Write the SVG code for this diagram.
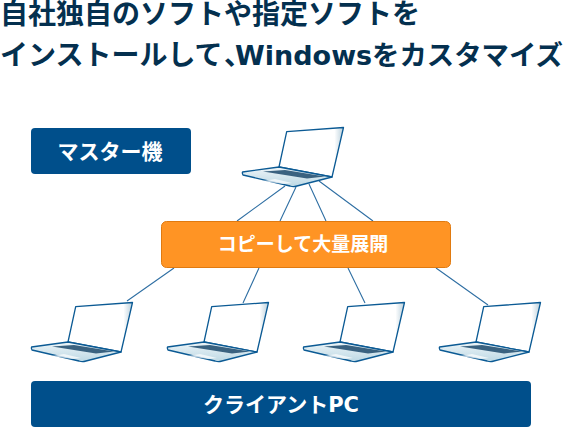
<svg xmlns="http://www.w3.org/2000/svg" width="564" height="428" viewBox="0 0 564 428">
<style>
text{font-family:"DejaVu Sans","Noto Sans CJK JP",sans-serif;font-weight:700}
.t{font-size:28px;fill:#04304f}
.l{font-size:21px;fill:#fff;text-anchor:middle}
.c{stroke:#2f6fa3;stroke-width:1.100;fill:none}
.b{fill:#004f8b}
</style>
<defs>
<linearGradient id="s" x1="0" x2="1" y1="0" y2="0"><stop offset=".86" stop-color="#fff"/><stop offset="1" stop-color="#b9cfdb"/></linearGradient>
<linearGradient id="k" x1="0" x2="0" y1="0" y2="1"><stop offset="0" stop-color="#eef5f8"/><stop offset="1" stop-color="#bcd8e4"/></linearGradient>
<g id="pc">
<path d="M286.700 131.700L343.500 127.500L332 177L279 167Z" fill="url(#s)" stroke="#0b5a94" stroke-width="1.300" stroke-linejoin="round"/>
<path d="M242.500 172L279 167L332 177L295 186.500Q293 187 290 186L243 175Q242 173 242.500 172Z" fill="url(#k)" stroke="#0b5a94" stroke-width="1.300" stroke-linejoin="round"/>
<path d="M263 171.500L285 170L325 176.500L307 178.500Z" fill="#3a6280"/>
<path d="M263 181L275 179L292 183L283 184Z" fill="#fff" opacity=".7"/>
</g>
</defs>
<g id="title">
<text class="t" x="0" y="24">自社独自のソフトや指定ソフトを</text>
<text class="t" x="0" y="65">インストールして<tspan x="224">、</tspan><tspan x="235" style="font-size:27px">Windows</tspan><tspan x="372" style="font-size:27.400px">をカスタマイズ</tspan></text>
</g>
<g id="connectors">
<path class="c" d="M285 186L237 221M296 187L280 221M309 184L326 221M319 181L373 221M174 268L127 301M259 268L243 303M348 268L365 303M436 268L488 305"/>
</g>
<g id="master-label"><rect class="b" x="31" y="128" width="160" height="46" rx="4"/><text class="l" x="110" y="159">マスター機</text></g>
<g id="master-pc"><use href="#pc"/></g>
<g id="copy"><rect x="161.500" y="221.500" width="289" height="46" rx="5" fill="#ff9424" stroke="#e07a10"/><text class="l" x="303" y="251" style="font-size:19px">コピーして大量展開</text></g>
<g id="client-1"><use href="#pc" x="-211" y="175"/></g>
<g id="client-2"><use href="#pc" x="-75" y="175"/></g>
<g id="client-3"><use href="#pc" x="61" y="175"/></g>
<g id="client-4"><use href="#pc" x="197" y="175"/></g>
<g id="client-label"><rect class="b" x="31" y="381" width="500" height="46" rx="4"/><text class="l" x="281" y="412">クライアントPC</text></g>
</svg>
